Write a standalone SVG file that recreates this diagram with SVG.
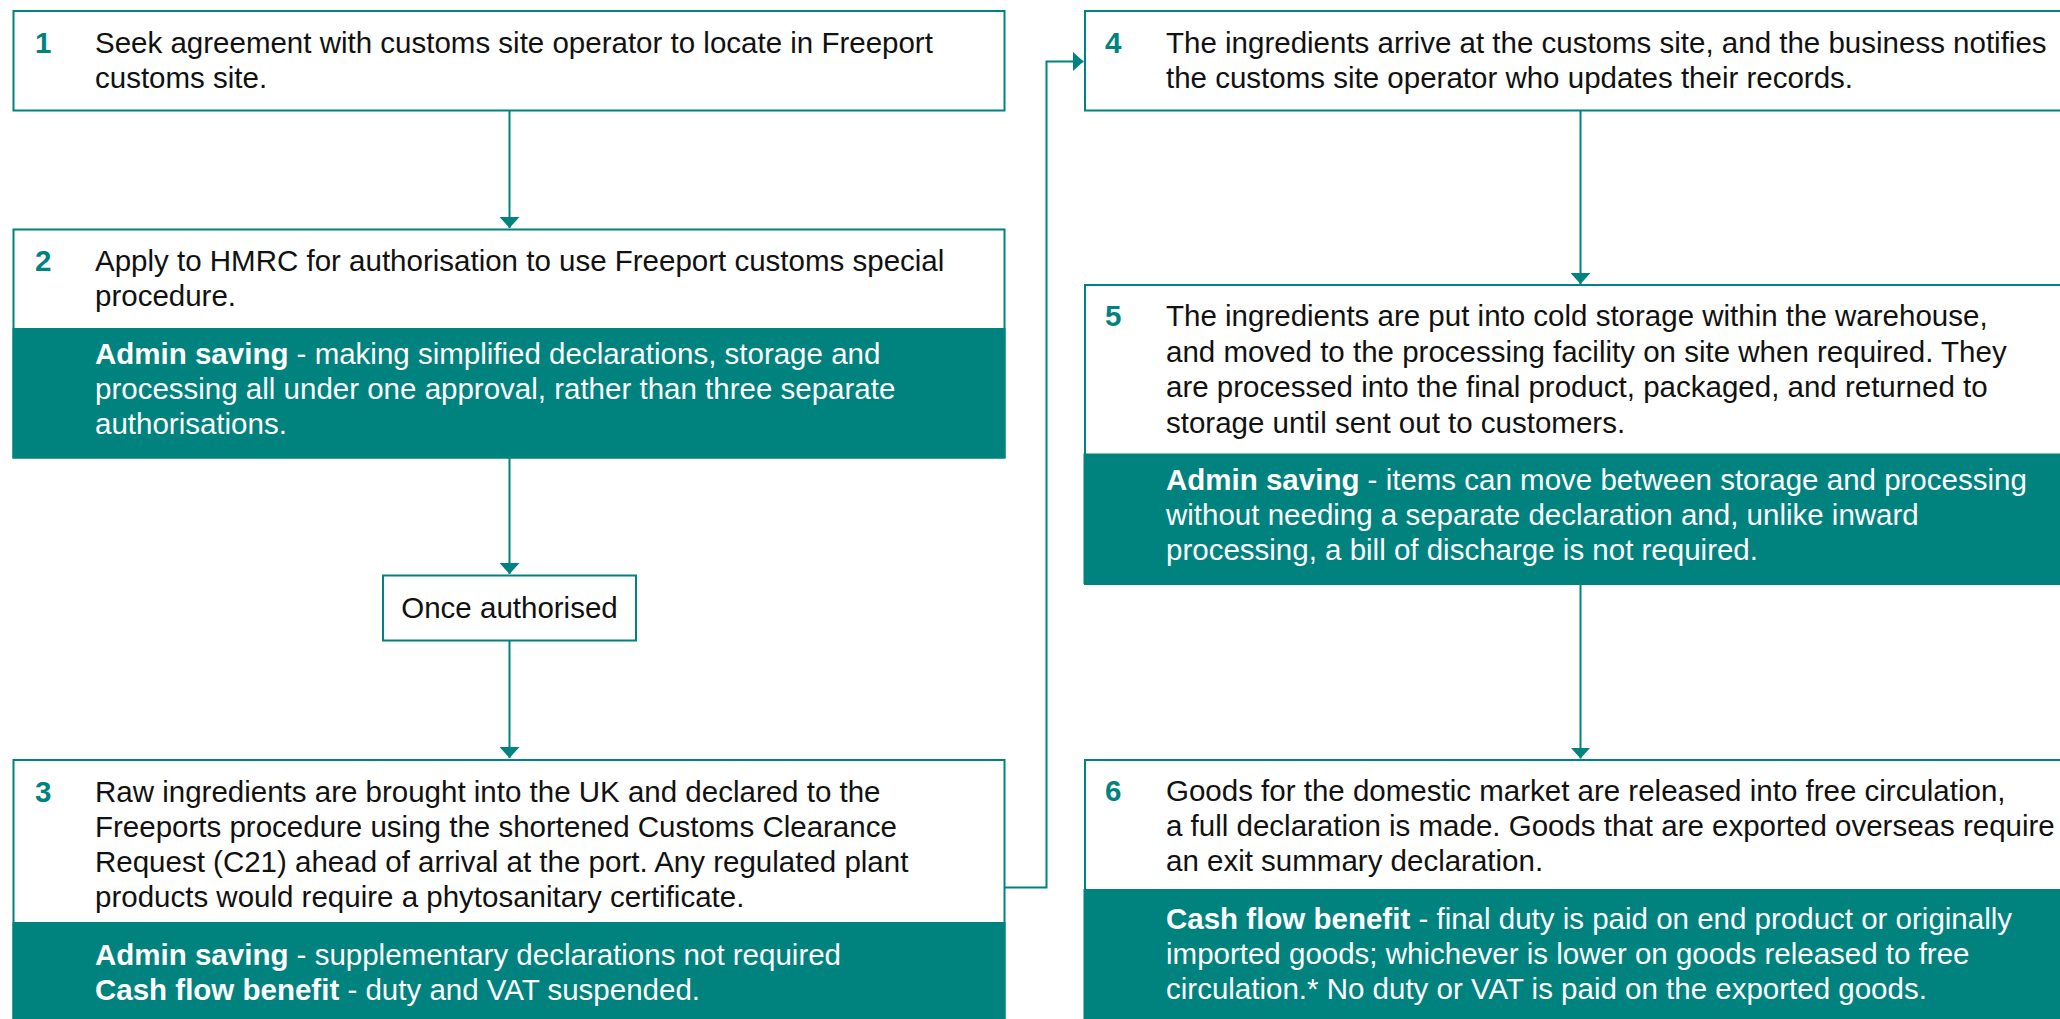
<svg xmlns="http://www.w3.org/2000/svg" width="2060" height="1019" viewBox="0 0 2060 1019">
<defs>
<style>
.box{fill:#ffffff;stroke:#00827f;stroke-width:2}
.band{fill:#00827f}
.t{font-family:"Liberation Sans",Arial,sans-serif;font-size:29.5px;fill:#111111}
.w{font-family:"Liberation Sans",Arial,sans-serif;font-size:29.5px;fill:#ffffff}
.n{font-family:"Liberation Sans",Arial,sans-serif;font-size:29.5px;font-weight:bold;fill:#00827f}
.b{font-weight:bold}
.c{fill:none;stroke:#00827f;stroke-width:2}
</style>
<marker id="ah" markerUnits="userSpaceOnUse" markerWidth="12" markerHeight="22" refX="11" refY="10" orient="auto" viewBox="0 0 12 22">
<path d="M0,0 L11,10 L0,20 Z" fill="#00827f"/>
</marker>
</defs>
<rect width="2060" height="1019" fill="#ffffff"/>

<g id="connectors">
<line class="c" x1="509.5" y1="111" x2="509.5" y2="228" marker-end="url(#ah)"/>
<line class="c" x1="509.5" y1="458" x2="509.5" y2="574" marker-end="url(#ah)"/>
<line class="c" x1="509.5" y1="641" x2="509.5" y2="758" marker-end="url(#ah)"/>
<polyline class="c" points="1005,887.5 1046.5,887.5 1046.5,61.5 1083.5,61.5" marker-end="url(#ah)"/>
<line class="c" x1="1580.5" y1="111" x2="1580.5" y2="284" marker-end="url(#ah)"/>
<line class="c" x1="1580.5" y1="584" x2="1580.5" y2="758.5" marker-end="url(#ah)"/>
</g>

<g id="step1">
<rect class="box" x="13.5" y="11" width="991" height="99.5"/>
<text class="n" x="35" y="53">1</text>
<text class="t" x="95" y="53">Seek agreement with customs site operator to locate in Freeport</text>
<text class="t" x="95" y="88">customs site.</text>
</g>

<g id="step2">
<rect class="box" x="13.5" y="229.5" width="991" height="228"/>
<rect class="band" x="12.5" y="328" width="993" height="130.5"/>
<text class="n" x="35" y="271">2</text>
<text class="t" x="95" y="271">Apply to HMRC for authorisation to use Freeport customs special</text>
<text class="t" x="95" y="306">procedure.</text>
<text class="w" x="95" y="364"><tspan class="b">Admin saving</tspan> - making simplified declarations, storage and</text>
<text class="w" x="95" y="399">processing all under one approval, rather than three separate</text>
<text class="w" x="95" y="434">authorisations.</text>
</g>

<g id="once-authorised">
<rect class="box" x="383" y="575.5" width="253" height="65"/>
<text class="t" x="509.5" y="617.5" text-anchor="middle">Once authorised</text>
</g>

<g id="step3">
<rect class="box" x="13.5" y="760" width="991" height="270"/>
<rect class="band" x="12.5" y="922" width="993" height="97"/>
<text class="n" x="35" y="801.7">3</text>
<text class="t" x="95" y="801.7">Raw ingredients are brought into the UK and declared to the</text>
<text class="t" x="95" y="836.7">Freeports procedure using the shortened Customs Clearance</text>
<text class="t" x="95" y="871.7">Request (C21) ahead of arrival at the port. Any regulated plant</text>
<text class="t" x="95" y="906.7">products would require a phytosanitary certificate.</text>
<text class="w" x="95" y="964.5"><tspan class="b">Admin saving</tspan> - supplementary declarations not required</text>
<text class="w" x="95" y="999.5"><tspan class="b">Cash flow benefit</tspan> - duty and VAT suspended.</text>
</g>

<g id="step4">
<rect class="box" x="1085" y="11" width="1000" height="99.5"/>
<text class="n" x="1105" y="53.3">4</text>
<text class="t" x="1166" y="53.3">The ingredients arrive at the customs site, and the business notifies</text>
<text class="t" x="1166" y="88.3">the customs site operator who updates their records.</text>
</g>

<g id="step5">
<rect class="box" x="1085" y="285" width="1000" height="299"/>
<rect class="band" x="1083.5" y="453.5" width="990" height="130.5"/>
<text class="n" x="1105" y="326">5</text>
<text class="t" x="1166" y="326">The ingredients are put into cold storage within the warehouse,</text>
<text class="t" x="1166" y="361.5">and moved to the processing facility on site when required. They</text>
<text class="t" x="1166" y="397">are processed into the final product, packaged, and returned to</text>
<text class="t" x="1166" y="432.5">storage until sent out to customers.</text>
<text class="w" x="1166" y="490"><tspan class="b">Admin saving</tspan> - items can move between storage and processing</text>
<text class="w" x="1166" y="524.5">without needing a separate declaration and, unlike inward</text>
<text class="w" x="1166" y="559.5">processing, a bill of discharge is not required.</text>
</g>

<g id="step6">
<rect class="box" x="1085" y="760" width="1000" height="270"/>
<rect class="band" x="1083.5" y="889" width="990" height="130"/>
<text class="n" x="1105" y="800.7">6</text>
<text class="t" x="1166" y="800.7">Goods for the domestic market are released into free circulation,</text>
<text class="t" x="1166" y="835.7">a full declaration is made. Goods that are exported overseas require</text>
<text class="t" x="1166" y="870.7">an exit summary declaration.</text>
<text class="w" x="1166" y="929"><tspan class="b">Cash flow benefit</tspan> - final duty is paid on end product or originally</text>
<text class="w" x="1166" y="963.5">imported goods; whichever is lower on goods released to free</text>
<text class="w" x="1166" y="999">circulation.* No duty or VAT is paid on the exported goods.</text>
</g>
</svg>
